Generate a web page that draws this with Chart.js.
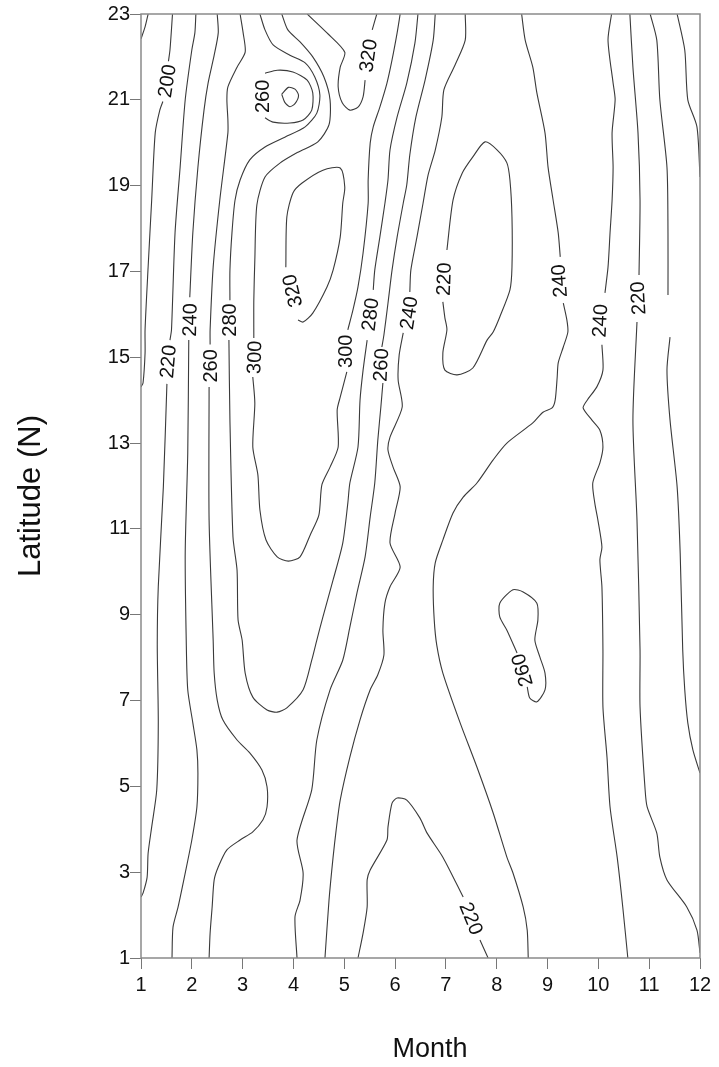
<!DOCTYPE html>
<html>
<head>
<meta charset="utf-8">
<title>Latitude / Month contour</title>
<script src="https://cdn.jsdelivr.net/npm/chart.js@4.4.1/dist/chart.umd.min.js"></script>
<style>
  html, body { margin: 0; padding: 0; background: #fff; }
  #chart-box { width: 719px; height: 1067px; }
</style>
</head>
<body>
<div id="chart-box"><canvas id="my-chart" width="719" height="1067"></canvas></div>
<script>
'use strict';

// ******GLOBALS******

let monthTicks = [1, 2, 3, 4, 5, 6, 7, 8, 9, 10, 11, 12];
let latTicks = [1, 3, 5, 7, 9, 11, 13, 15, 17, 19, 21, 23];

// contour lines, each point is [month, latitude]; a break = room for a label
let c180Corner = [[1.14, 23], [1.08, 22.7], [1.0, 22.42]];
let c200Top = [[1.62, 23], [1.57, 22.16], [1.54, 21.9]];
let c200Low = [[1.43, 20.96], [1.37, 20.76], [1.28, 20.23], [1.21, 18.66], [1.14, 17.1], [1.08, 15.64], [1.08, 15.1], [1.04, 14.4], [1.0, 14.31]];

let c220Top = [[2.08, 23], [2.06, 22.56], [2.0, 22.16], [1.87, 21.0], [1.77, 19.43], [1.67, 17.9], [1.6, 15.64], [1.57, 15.4]];
let c220Low = [[1.51, 14.38], [1.44, 11.98], [1.34, 9.65], [1.32, 8.3], [1.34, 6.48], [1.31, 4.92], [1.21, 4.05], [1.14, 3.44], [1.12, 2.88], [1.04, 2.51], [1.0, 2.42]];

let c240Top = [[2.50, 23], [2.52, 22.56], [2.44, 22.04], [2.32, 21.39], [2.24, 20.76], [2.12, 19.43], [2.02, 17.9], [1.96, 16.4]];
let c240Low = [[1.94, 15.4], [1.92, 12.77], [1.87, 10.44], [1.89, 8.41], [1.92, 7.25], [2.02, 6.48], [2.10, 5.85], [2.12, 5.31], [2.10, 4.52], [2.00, 3.75], [1.87, 2.98], [1.73, 2.19], [1.63, 1.72], [1.61, 1.0]];

let c260Top = [[2.95, 23], [3.01, 22.56], [3.05, 22.11], [2.89, 21.76], [2.71, 21.3], [2.69, 21.0], [2.71, 20.53], [2.71, 20.23], [2.55, 18.66], [2.42, 17.1], [2.36, 15.64], [2.36, 15.3]];
let c260Low = [[2.34, 14.31], [2.34, 11.21], [2.42, 8.41], [2.44, 7.64], [2.50, 7.01], [2.61, 6.55], [2.89, 6.08], [3.14, 5.78], [3.38, 5.38], [3.48, 4.99], [3.48, 4.52], [3.40, 4.22], [3.20, 3.94], [2.95, 3.75], [2.69, 3.52], [2.52, 3.12], [2.44, 2.82], [2.40, 2.19], [2.36, 1.58], [2.34, 1.0]];

let c260Loop = [[3.44, 20.58], [3.60, 20.48], [3.93, 20.46], [4.19, 20.53], [4.36, 20.76], [4.38, 21.16], [4.27, 21.46], [3.99, 21.65], [3.68, 21.69], [3.44, 21.62]];
let c240Loop = [[3.77, 21.13], [3.90, 21.29], [4.03, 21.25], [4.10, 21.1], [4.03, 20.91], [3.93, 20.84], [3.83, 20.94], [3.77, 21.13]];

let c280A = [[3.34, 23], [3.44, 22.63], [3.60, 22.28], [3.93, 22.04], [4.23, 21.86], [4.42, 21.53], [4.52, 21.11], [4.46, 20.69], [4.23, 20.37], [3.83, 20.13], [3.44, 19.9], [3.14, 19.6], [2.95, 19.13], [2.85, 18.66], [2.79, 17.9], [2.75, 17.03], [2.75, 16.33]];
let c280B = [[2.73, 15.4], [2.75, 13.54], [2.81, 10.81], [2.89, 10.04], [2.91, 8.88], [2.99, 8.41], [3.05, 7.64], [3.20, 7.08], [3.48, 6.78], [3.68, 6.73], [3.87, 6.83], [4.19, 7.25], [4.36, 7.94], [4.46, 8.41], [4.58, 8.95], [4.78, 9.81], [4.97, 10.67], [5.07, 11.6], [5.11, 12.07], [5.27, 12.91], [5.31, 14.0], [5.37, 14.7], [5.45, 15.4]];
let c280C = [[5.57, 16.57], [5.60, 17.03], [5.70, 17.8], [5.80, 18.59], [5.86, 19.13], [5.90, 19.83], [6.04, 20.6], [6.23, 21.39], [6.39, 22.32], [6.45, 23]];

let c300A = [[3.77, 23], [3.89, 22.63], [4.13, 22.35], [4.38, 22.0], [4.60, 21.53], [4.72, 21.0], [4.70, 20.42], [4.48, 20.02], [4.09, 19.78], [3.74, 19.53], [3.44, 19.2], [3.28, 18.55], [3.24, 17.27], [3.22, 16.33], [3.22, 15.45]];
let c300B = [[3.20, 14.54], [3.24, 13.93], [3.20, 12.91], [3.30, 12.26], [3.34, 11.44], [3.46, 10.74], [3.68, 10.35], [3.90, 10.25], [4.13, 10.35], [4.33, 10.86], [4.50, 11.32], [4.56, 12.03], [4.72, 12.44], [4.88, 12.91], [4.86, 13.77], [4.92, 14.07], [5.05, 14.66]];
let c300C = [[5.07, 15.64], [5.17, 16.1], [5.27, 16.64], [5.37, 17.43], [5.47, 18.59], [5.47, 19.13], [5.51, 19.99], [5.57, 20.37], [5.70, 20.83], [5.84, 21.39], [5.94, 21.93], [6.04, 22.56], [6.10, 23]];

let c320FingerA = [[4.27, 23], [4.66, 22.56], [5.01, 22.11], [4.92, 21.76], [4.88, 21.3], [4.96, 20.93], [5.11, 20.76], [5.27, 20.83], [5.37, 21.07], [5.41, 21.46]];
let c320FingerB = [[5.55, 22.63], [5.64, 23]];
let c320Loop = [[3.85, 17.1], [3.87, 18.27], [3.99, 18.83], [4.17, 19.06], [4.58, 19.36], [4.92, 19.41], [5.01, 18.97], [4.97, 18.59], [4.92, 17.8], [4.78, 17.03], [4.66, 16.64], [4.38, 16.03], [4.19, 15.82], [4.09, 15.87]];

let c260RightA = [[6.79, 23], [6.75, 22.39], [6.59, 21.46], [6.41, 20.6], [6.29, 19.72], [6.23, 19.02], [6.16, 18.59], [6.04, 17.8], [5.94, 17.03], [5.86, 16.26], [5.78, 15.52], [5.74, 15.24]];
let c260RightB = [[5.76, 14.4], [5.72, 13.84], [5.66, 13.07], [5.60, 12.07], [5.51, 11.28], [5.41, 10.35], [5.25, 9.51], [5.11, 8.71], [4.97, 7.94], [4.72, 7.25], [4.46, 6.08], [4.36, 4.92], [4.07, 3.75], [4.19, 2.98], [4.13, 2.35], [4.03, 1.96], [4.07, 1.0]];

let c240MidA = [[7.38, 23], [7.38, 22.39], [7.18, 21.81], [6.96, 21.23], [6.92, 20.6], [6.79, 19.83], [6.65, 19.25], [6.55, 18.59], [6.43, 17.8], [6.31, 17.03], [6.29, 16.52]];
let c240MidB = [[6.16, 15.57], [6.08, 15.05], [6.06, 14.47], [6.14, 13.84], [5.90, 13.14], [5.86, 12.84], [5.96, 12.44], [6.10, 11.98], [6.0, 11.37], [5.90, 10.67], [6.10, 10.11], [5.90, 9.65], [5.80, 9.27], [5.76, 8.64], [5.78, 8.06], [5.66, 7.6], [5.51, 7.25], [5.31, 6.55], [5.11, 5.68], [4.92, 4.68], [4.84, 3.98], [4.78, 3.35], [4.70, 2.35], [4.62, 1.0]];

let c220Loop = [[7.02, 17.5], [7.14, 18.66], [7.32, 19.29], [7.53, 19.67], [7.77, 20.02], [8.01, 19.83], [8.20, 19.53], [8.26, 19.13], [8.30, 18.27], [8.30, 17.1], [8.26, 16.57], [8.06, 15.94], [7.93, 15.59], [7.81, 15.4], [7.53, 14.75], [7.22, 14.59], [6.98, 14.7], [6.94, 15.1], [7.02, 15.64], [6.98, 15.92], [6.94, 16.29]];

let c240EastA = [[8.49, 23], [8.56, 22.39], [8.71, 21.76], [8.79, 21.16], [8.95, 20.23], [9.01, 19.43], [9.11, 18.66], [9.21, 17.9], [9.25, 17.34]];
let c240EastB = [[9.31, 16.26], [9.38, 15.87], [9.40, 15.59], [9.31, 15.24], [9.21, 14.87], [9.19, 14.54], [9.15, 14.0], [9.09, 13.82], [8.91, 13.72], [8.71, 13.47], [8.20, 13.0], [7.93, 12.61], [7.61, 12.07], [7.34, 11.74], [7.14, 11.37], [6.94, 10.74], [6.79, 10.21], [6.75, 9.65], [6.77, 8.88], [6.82, 8.29], [6.94, 7.64], [7.28, 6.48], [7.61, 5.45], [7.93, 4.38], [8.20, 3.35], [8.32, 2.98], [8.52, 2.19], [8.60, 1.65], [8.62, 1.0]];

let c260Mini = [[8.40, 8.11], [8.20, 8.64], [8.06, 8.95], [8.06, 9.27], [8.32, 9.58], [8.52, 9.53], [8.79, 9.27], [8.81, 8.88], [8.75, 8.41], [8.85, 8.01], [8.95, 7.64], [8.95, 7.25], [8.79, 6.97], [8.65, 7.06], [8.60, 7.32]];

let c220FingerA = [[5.27, 1.0], [5.37, 1.58], [5.45, 2.19], [5.45, 2.82], [5.51, 3.05], [5.84, 3.75], [5.86, 4.05], [5.94, 4.61], [6.04, 4.73], [6.23, 4.68], [6.49, 4.26], [6.63, 3.91], [6.94, 3.35], [7.34, 2.42]];
let c220FingerB = [[7.67, 1.42], [7.83, 1.0]];

let c240WestA = [[10.26, 23], [10.19, 22.39], [10.29, 21.39], [10.33, 21.0], [10.27, 20.23], [10.29, 19.43], [10.27, 18.66], [10.23, 17.9], [10.19, 17.1], [10.13, 16.5]];
let c240WestB = [[10.07, 15.29], [10.09, 14.7], [9.97, 14.31], [9.78, 14.0], [9.70, 13.82], [9.87, 13.54], [10.03, 13.3], [10.09, 12.91], [10.03, 12.54], [9.89, 12.07], [9.93, 11.6], [9.99, 11.21], [10.07, 10.58], [10.03, 10.28], [10.07, 9.65], [10.09, 8.18], [10.09, 6.85], [10.17, 5.68], [10.23, 4.52], [10.37, 3.35], [10.48, 2.19], [10.58, 1.0]];

let c220RightA = [[10.62, 23], [10.68, 21.76], [10.78, 20.23], [10.82, 18.66], [10.80, 16.92]];
let c220RightB = [[10.76, 15.82], [10.68, 13.54], [10.76, 11.21], [10.82, 8.18], [10.82, 6.85], [10.92, 4.92], [10.96, 4.52], [11.15, 3.91], [11.21, 3.35], [11.35, 2.82], [11.74, 2.19], [11.94, 1.65], [12.0, 1.12]];

let c200RightA = [[11.02, 23], [11.15, 22.39], [11.21, 21.0], [11.35, 19.43], [11.37, 17.9], [11.37, 16.45]];
let c200RightB = [[11.41, 15.47], [11.35, 14.7], [11.41, 13.54], [11.55, 11.98], [11.61, 10.44], [11.66, 8.18], [11.70, 7.25], [11.76, 6.48], [11.86, 5.85], [12.0, 5.31]];
let c180Right = [[11.55, 23], [11.70, 22.16], [11.76, 21.0], [11.94, 20.37], [12.0, 19.2]];

let contourLines = [
  c180Corner, c200Top, c200Low, c220Top, c220Low, c240Top, c240Low,
  c260Top, c260Low, c260Loop, c240Loop, c280A, c280B, c280C,
  c300A, c300B, c300C, c320FingerA, c320FingerB, c320Loop,
  c260RightA, c260RightB, c240MidA, c240MidB, c220Loop,
  c240EastA, c240EastB, c260Mini, c220FingerA, c220FingerB,
  c240WestA, c240WestB, c220RightA, c220RightB,
  c200RightA, c200RightB, c180Right
];

// line labels: [text, month, latitude, angle in degrees]
let contourLabels = [
  ['200', 1.51, 21.44, -81],
  ['220', 1.53, 14.9, -85],
  ['240', 1.96, 15.87, -89],
  ['260', 2.36, 14.8, -90],
  ['280', 2.75, 15.87, -90],
  ['300', 3.23, 15.0, -88],
  ['260', 3.40, 21.08, -90],
  ['320', 3.98, 16.55, -103],
  ['320', 5.47, 22.03, -82],
  ['300', 5.03, 15.14, -90],
  ['280', 5.51, 16.0, -83],
  ['260', 5.72, 14.82, -87],
  ['240', 6.27, 16.03, -81],
  ['220', 6.96, 16.82, -88],
  ['240', 9.23, 16.78, -94],
  ['240', 10.03, 15.85, -87],
  ['220', 10.78, 16.38, -93],
  ['260', 8.50, 7.71, -106],
  ['220', 7.50, 1.92, 68]
];

let xTitle = 'Month';
let yTitle = 'Latitude (N)';

// ****** PLUGINS ******
let frameBox = {
  id: 'frameBox',
  afterDraw(chart) {
    let ctx = chart.ctx;
    let a = chart.chartArea;
    ctx.save();
    ctx.strokeStyle = '#8a8a8a';
    ctx.lineWidth = 1.5;
    ctx.strokeRect(a.left, a.top, a.right - a.left, a.bottom - a.top);
    ctx.restore();
  }
};

// axis titles sit a bit off the plot centre in the original, so draw them here
let axisTitles = {
  id: 'axisTitles',
  afterDraw(chart) {
    let ctx = chart.ctx;
    ctx.save();
    ctx.fillStyle = '#111';
    ctx.textAlign = 'center';
    ctx.textBaseline = 'middle';
    ctx.font = '27px "Liberation Sans", Arial, Helvetica, sans-serif';
    ctx.fillText(xTitle, 430, 1050);
    ctx.translate(31, 496);
    ctx.rotate(-Math.PI / 2);
    ctx.font = '31px "Liberation Sans", Arial, Helvetica, sans-serif';
    ctx.fillText(yTitle, 0, 0);
    ctx.restore();
  }
};

let lineLabels = {
  id: 'lineLabels',
  afterDatasetsDraw(chart) {
    let ctx = chart.ctx;
    let xs = chart.scales.x;
    let ys = chart.scales.y;
    ctx.save();
    ctx.font = '20px "Liberation Sans", Arial, Helvetica, sans-serif';
    ctx.fillStyle = '#111';
    ctx.textAlign = 'center';
    ctx.textBaseline = 'middle';
    for (let i = 0; i < contourLabels.length; i++) {
      let lab = contourLabels[i];
      ctx.save();
      ctx.translate(xs.getPixelForValue(lab[1]), ys.getPixelForValue(lab[2]));
      ctx.rotate(lab[3] * Math.PI / 180);
      ctx.fillText(lab[0], 0, 1);
      ctx.restore();
    }
    ctx.restore();
  }
};

// ****** CHART ******
Chart.defaults.font.family = '"Liberation Sans", Arial, Helvetica, sans-serif';
Chart.defaults.color = '#111';

let datasets = [];
for (let i = 0; i < contourLines.length; i++) {
  datasets.push({
    data: contourLines[i].map(p => ({ x: p[0], y: p[1] })),
    showLine: true,
    pointRadius: 0,
    borderColor: '#3a3a3a',
    borderWidth: 1.1,
    tension: 0.25,
    fill: false
  });
}

let canvasElem = document.getElementById('my-chart').getContext('2d');

new Chart(canvasElem, {
  type: 'scatter',
  data: { datasets: datasets },
  options: {
    responsive: false,
    animation: false,
    devicePixelRatio: 1,
    layout: { padding: { top: 14, right: 19, left: 0, bottom: 0 } },
    plugins: {
      legend: { display: false },
      tooltip: { enabled: false }
    },
    scales: {
      x: {
        type: 'linear',
        min: monthTicks[0],
        max: monthTicks[monthTicks.length - 1],
        afterFit: s => { s.height = 109; },
        afterBuildTicks: s => { s.ticks = monthTicks.map(v => ({ value: v })); },
        border: { display: false },
        grid: { drawOnChartArea: false, drawTicks: true, tickLength: 11, color: '#777', lineWidth: 1 },
        ticks: { font: { size: 20 }, padding: 4, maxRotation: 0 },
        title: { display: false }
      },
      y: {
        type: 'linear',
        min: latTicks[0],
        max: latTicks[latTicks.length - 1],
        afterFit: s => { s.width = 141; },
        afterBuildTicks: s => { s.ticks = latTicks.map(v => ({ value: v })); },
        border: { display: false },
        grid: { drawOnChartArea: false, drawTicks: true, tickLength: 11, color: '#777', lineWidth: 1 },
        ticks: { font: { size: 20 }, padding: 0 },
        title: { display: false }
      }
    }
  },
  plugins: [lineLabels, frameBox, axisTitles]
});
</script>
</body>
</html>
